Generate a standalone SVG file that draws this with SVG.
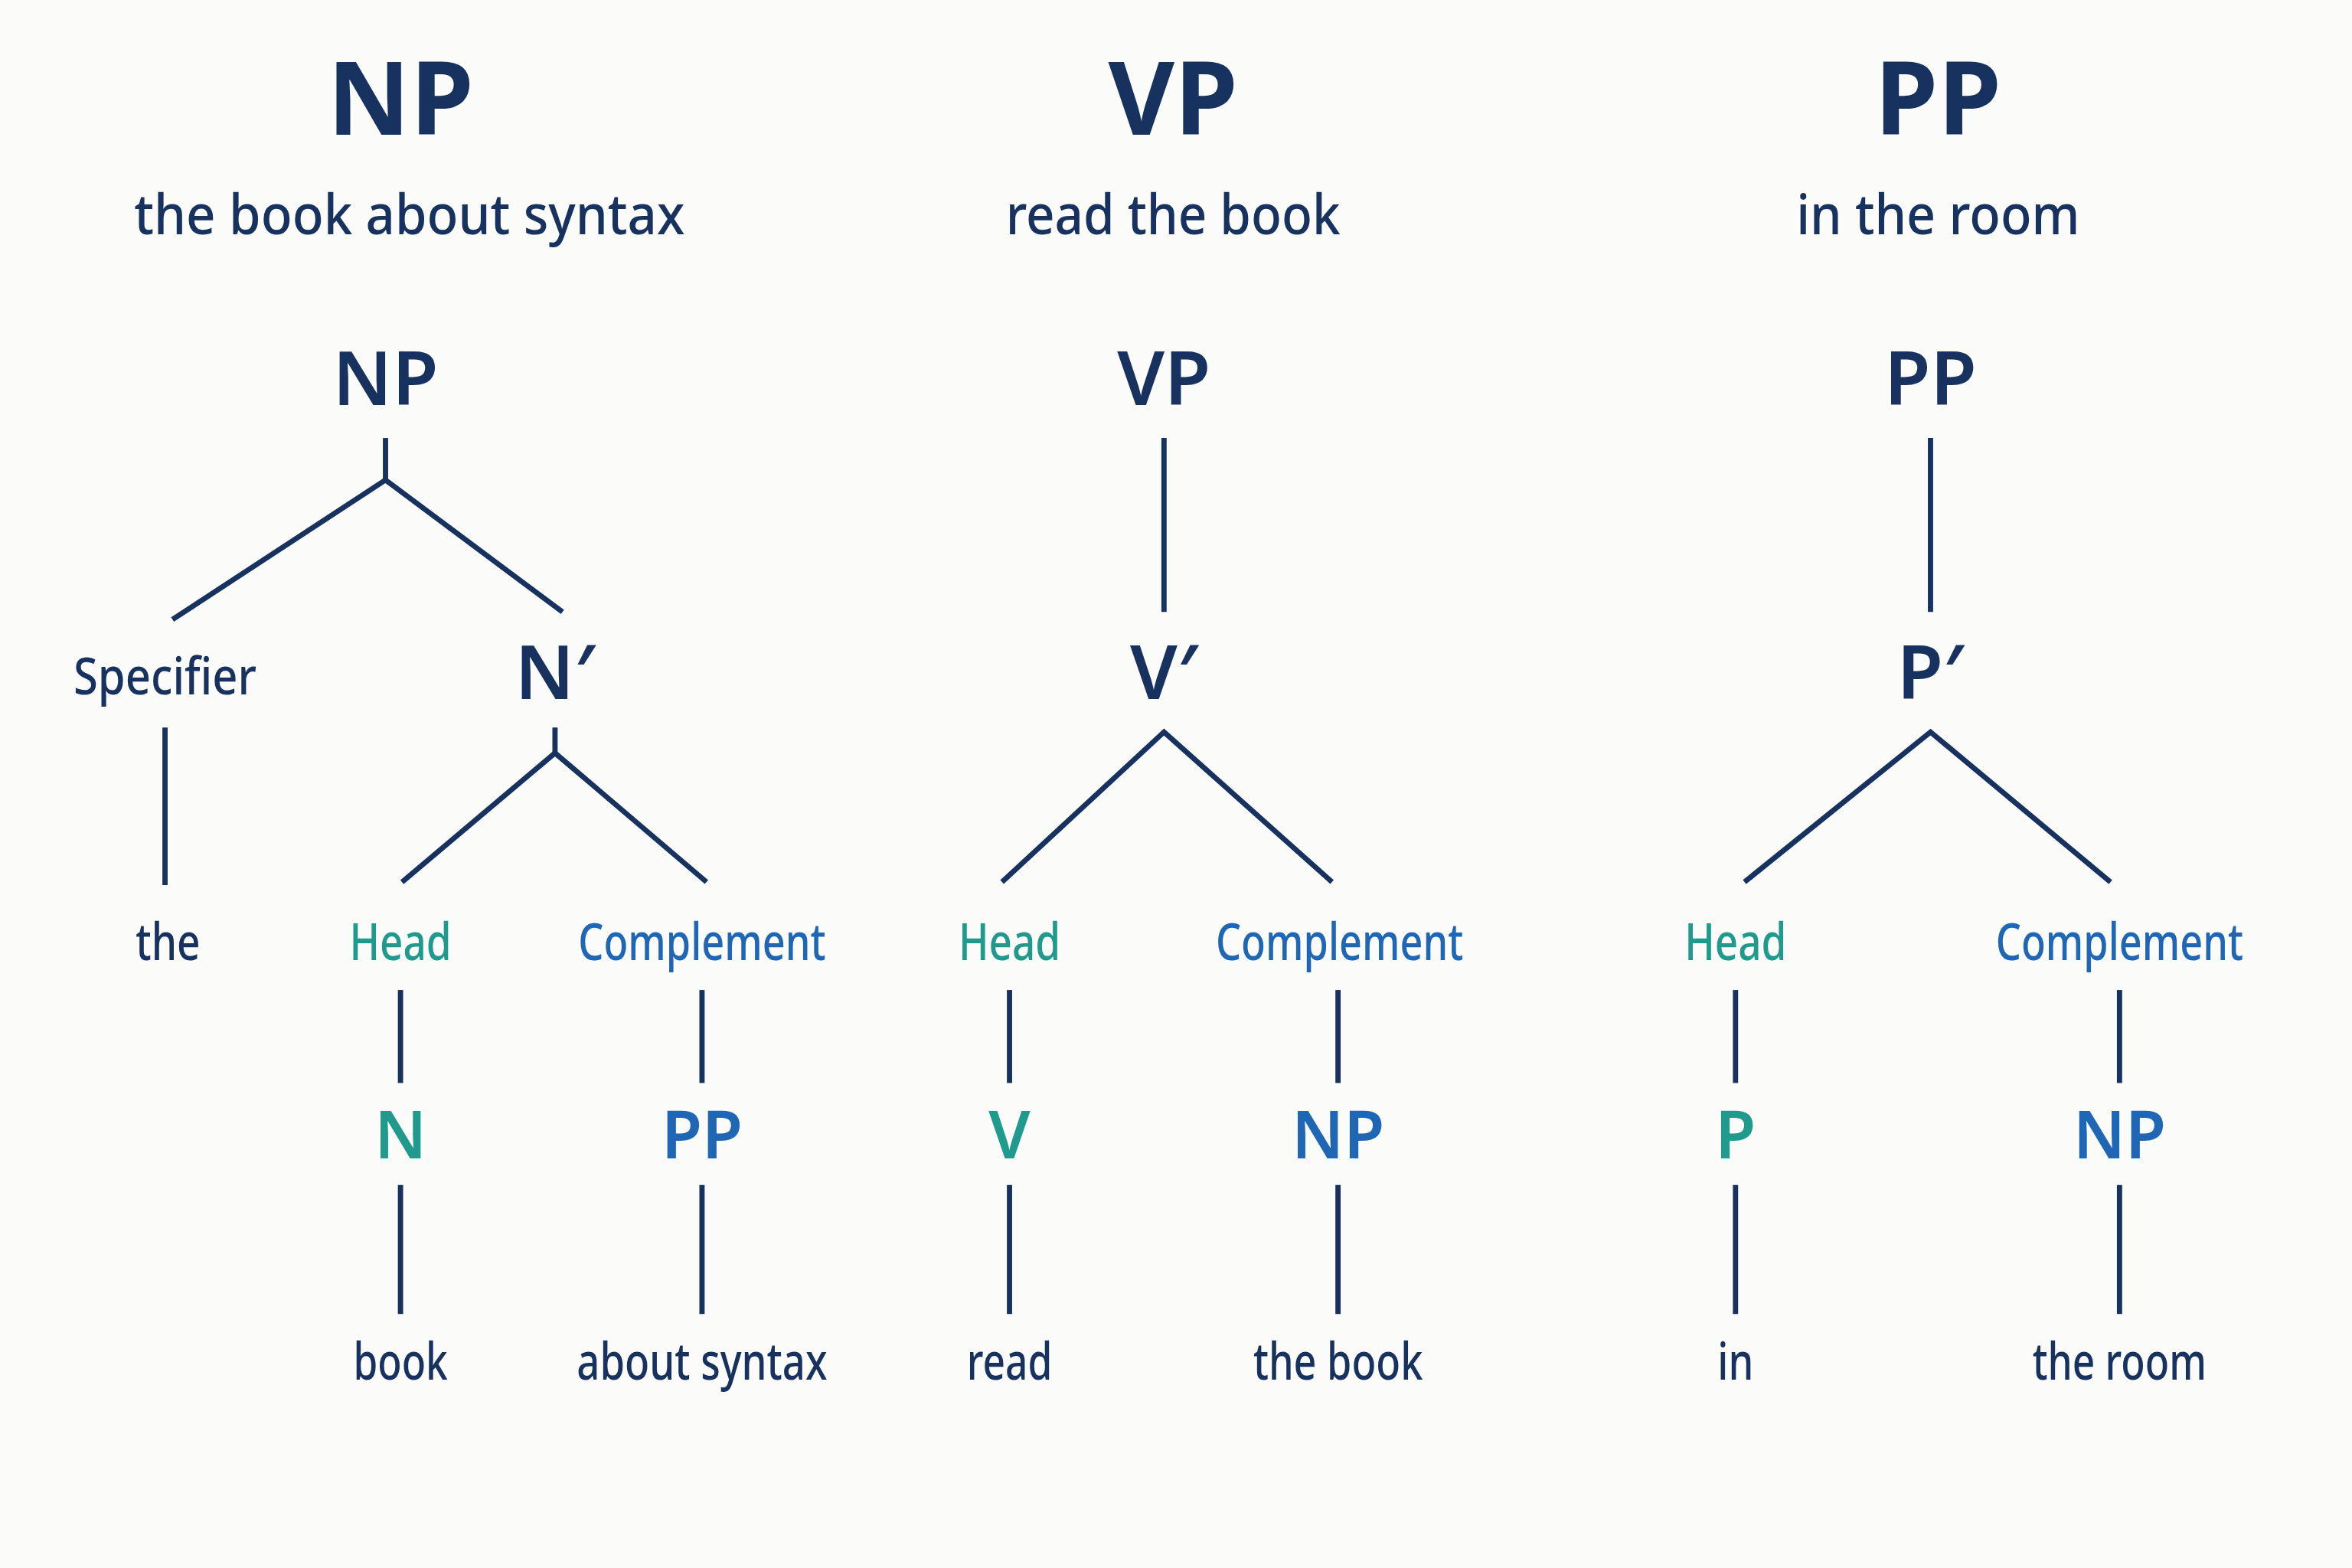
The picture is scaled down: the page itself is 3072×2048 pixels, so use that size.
<svg xmlns="http://www.w3.org/2000/svg" width="3072" height="2048" viewBox="0 0 3072 2048">
<style>
text{font-family:"Noto Sans","Open Sans",sans-serif;text-anchor:middle;fill:#17325f}
.t{font-size:68px;font-weight:700}
.s{font-size:37px;font-weight:500}
.n{font-size:50px;font-weight:600}
.w{font-size:34px;font-weight:500}
.h{font-size:34px;font-weight:500;fill:#1f9a8c}
.c{font-size:34px;font-weight:500;fill:#1f67b4}
.hn{font-size:44px;font-weight:600;fill:#1f9a8c}
.cn{font-size:44px;font-weight:600;fill:#1f67b4}
line,polyline{stroke:#17325f;stroke-width:3.5;fill:none}
</style>
<rect width="3072" height="2048" fill="#fbfbfa"/>
<g transform="scale(1.9592)">
<g id="titles">
<text class="t" x="267" y="90">NP</text><text class="s" x="273" y="156" textLength="367" lengthAdjust="spacingAndGlyphs">the book about syntax</text>
<text class="t" x="782" y="90">VP</text><text class="s" x="782" y="156" textLength="223" lengthAdjust="spacingAndGlyphs">read the book</text>
<text class="t" x="1292" y="90">PP</text><text class="s" x="1292" y="156" textLength="189" lengthAdjust="spacingAndGlyphs">in the room</text>
</g>
<g id="connectors">
<line x1="257" y1="292" x2="257" y2="320"/><polyline points="115,413 257,320 375,408"/>
<line x1="110" y1="485" x2="110" y2="590"/>
<line x1="370" y1="485" x2="370" y2="502"/><polyline points="268,588 370,502 471,588"/>
<line x1="267" y1="660" x2="267" y2="722"/><line x1="468" y1="660" x2="468" y2="722"/>
<line x1="267" y1="790" x2="267" y2="876"/><line x1="468" y1="790" x2="468" y2="876"/>
<line x1="776" y1="292" x2="776" y2="408"/><polyline points="668,588 776,488 888,588"/>
<line x1="673" y1="660" x2="673" y2="722"/><line x1="892" y1="660" x2="892" y2="722"/>
<line x1="673" y1="790" x2="673" y2="876"/><line x1="892" y1="790" x2="892" y2="876"/>
<line x1="1287" y1="292" x2="1287" y2="408"/><polyline points="1163,588 1287,488 1407,588"/>
<line x1="1157" y1="660" x2="1157" y2="722"/><line x1="1413" y1="660" x2="1413" y2="722"/>
<line x1="1157" y1="790" x2="1157" y2="876"/><line x1="1413" y1="790" x2="1413" y2="876"/>
</g>
<g id="np-tree">
<text class="n" x="257" y="270">NP</text>
<text class="w" x="110" y="463" textLength="122" lengthAdjust="spacingAndGlyphs">Specifier</text>
<text class="n" x="370" y="466">N′</text>
<text class="w" x="112" y="640" textLength="43" lengthAdjust="spacingAndGlyphs">the</text>
<text class="h" x="267" y="640" textLength="68" lengthAdjust="spacingAndGlyphs">Head</text>
<text class="c" x="468" y="640" textLength="165" lengthAdjust="spacingAndGlyphs">Complement</text>
<text class="hn" x="267" y="772">N</text>
<text class="cn" x="468" y="772">PP</text>
<text class="w" x="267" y="920" textLength="63" lengthAdjust="spacingAndGlyphs">book</text>
<text class="w" x="468" y="920" textLength="167" lengthAdjust="spacingAndGlyphs">about syntax</text>
</g>
<g id="vp-tree">
<text class="n" x="776" y="270">VP</text>
<text class="n" x="776" y="466">V′</text>
<text class="h" x="673" y="640" textLength="68" lengthAdjust="spacingAndGlyphs">Head</text>
<text class="c" x="893" y="640" textLength="165" lengthAdjust="spacingAndGlyphs">Complement</text>
<text class="hn" x="673" y="772">V</text>
<text class="cn" x="892" y="772">NP</text>
<text class="w" x="673" y="920" textLength="57" lengthAdjust="spacingAndGlyphs">read</text>
<text class="w" x="892" y="920" textLength="113" lengthAdjust="spacingAndGlyphs">the book</text>
</g>
<g id="pp-tree">
<text class="n" x="1287" y="270">PP</text>
<text class="n" x="1287" y="466">P′</text>
<text class="h" x="1157" y="640" textLength="68" lengthAdjust="spacingAndGlyphs">Head</text>
<text class="c" x="1413" y="640" textLength="165" lengthAdjust="spacingAndGlyphs">Complement</text>
<text class="hn" x="1157" y="772">P</text>
<text class="cn" x="1413" y="772">NP</text>
<text class="w" x="1157" y="920" textLength="24" lengthAdjust="spacingAndGlyphs">in</text>
<text class="w" x="1413" y="920" textLength="116" lengthAdjust="spacingAndGlyphs">the room</text>
</g>
</g>
</svg>
